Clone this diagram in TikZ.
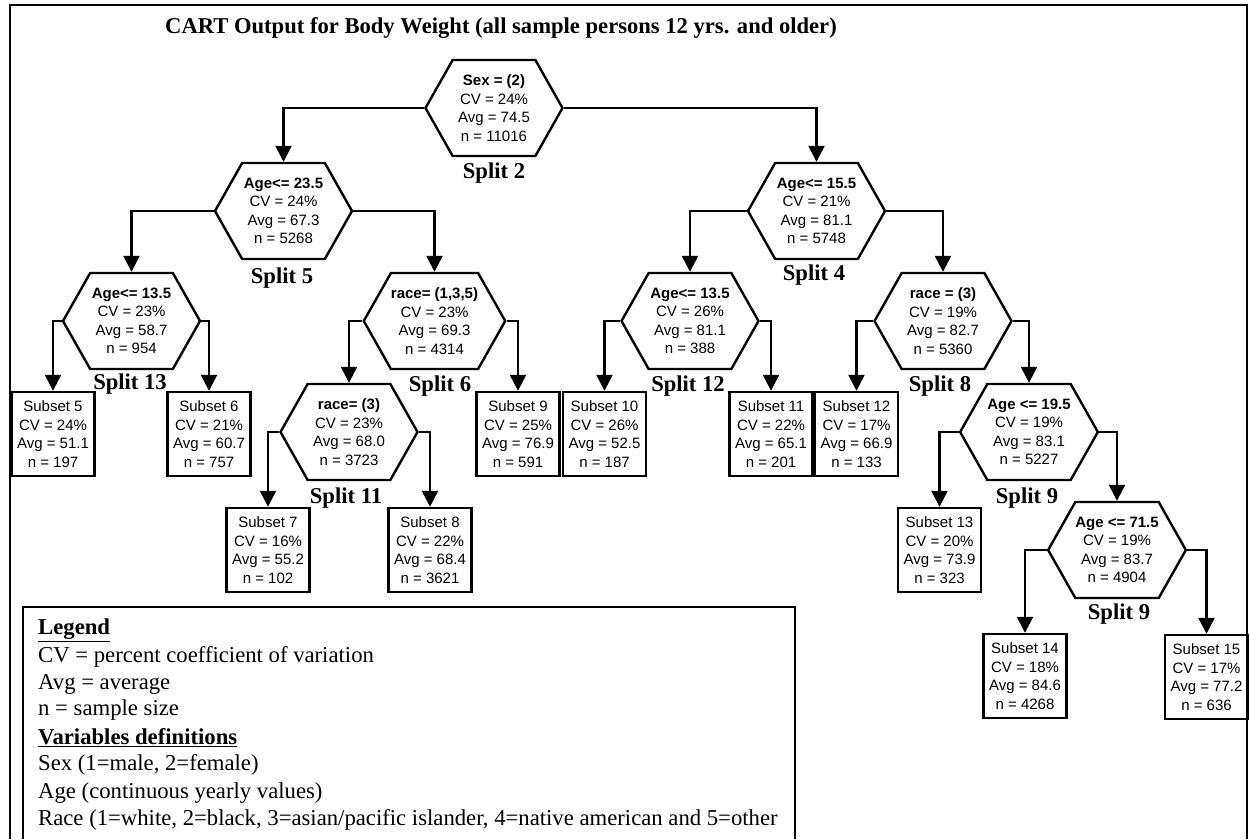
\documentclass[tikz,border=0pt]{standalone}
\usepackage{fontspec}
\setmainfont{Liberation Serif}
\setsansfont{Liberation Sans}
\usetikzlibrary{shapes.symbols,arrows.meta}

\tikzset{
  hexnode/.style={signal, signal to=west and east, signal from=nowhere,
    signal pointer angle=121, draw, line width=2.4pt, minimum width=137pt,
    minimum height=96pt, inner sep=0pt, align=center,
    font=\sffamily\fontsize{15}{18.5}\selectfont},
  subbox/.style={rectangle, draw, line width=2.4pt, minimum width=83pt,
    minimum height=84pt, inner sep=0pt, align=center,
    font=\sffamily\fontsize{15}{18.5}\selectfont},
  splitlbl/.style={inner sep=0pt, font=\bfseries\fontsize{22.6}{26}\selectfont},
  legtext/.style={anchor=west, inner sep=0pt, font=\fontsize{22.7}{26}\selectfont},
  arr/.style={line width=2.4pt, -{Triangle[length=16pt,width=16pt]}},
}

\begin{document}
\begin{tikzpicture}[x=1pt, y=-1pt]
    \useasboundingbox (0,0) rectangle (1250,839);

    % frame
    \draw[line width=1.6pt] (10,839) -- (10,5) -- (1247,5) -- (1247,839);
    \node[splitlbl] (title) at (501,28)
      {CART Output for Body Weight (all sample persons 12 yrs. and older)};

    % splits
    \node[hexnode] (root) at (494,108)
      {\textbf{Sex = (2)}\\CV = 24\%\\Avg = 74.5\\n = 11016};
    \node[splitlbl] (lbl2) at (494,173) {Split 2};
    \node[hexnode] (sp5) at (283.5,211)
      {\textbf{Age<= 23.5}\\CV = 24\%\\Avg = 67.3\\n = 5268};
    \node[splitlbl] (lbl5) at (282,278) {Split 5};
    \node[hexnode] (sp4) at (816.5,211)
      {\textbf{Age<= 15.5}\\CV = 21\%\\Avg = 81.1\\n = 5748};
    \node[splitlbl] (lbl4) at (814,275) {Split 4};
    \node[hexnode] (sp13) at (131.5,321)
      {\textbf{Age<= 13.5}\\CV = 23\%\\Avg = 58.7\\n = 954};
    \node[splitlbl] (lbl13) at (130,384) {Split 13};
    \node[hexnode] (sp6) at (434.5,321)
      {\textbf{race= (1,3,5)}\\CV = 23\%\\Avg = 69.3\\n = 4314};
    \node[splitlbl] (lbl6) at (440,386) {Split 6};
    \node[hexnode] (sp12) at (690,321)
      {\textbf{Age<= 13.5}\\CV = 26\%\\Avg = 81.1\\n = 388};
    \node[splitlbl] (lbl12) at (688,386) {Split 12};
    \node[hexnode] (sp8) at (943,321)
      {\textbf{race = (3)}\\CV = 19\%\\Avg = 82.7\\n = 5360};
    \node[splitlbl] (lbl8) at (940,386) {Split 8};
    \node[hexnode] (sp11) at (349,432)
      {\textbf{race= (3)}\\CV = 23\%\\Avg = 68.0\\n = 3723};
    \node[splitlbl] (lbl11) at (346,498) {Split 11};
    \node[hexnode] (sp9a) at (1029,432)
      {\textbf{Age <= 19.5}\\CV = 19\%\\Avg = 83.1\\n = 5227};
    \node[splitlbl] (lbl9a) at (1027,498) {Split 9};
    \node[hexnode] (sp9b) at (1117,550)
      {\textbf{Age <= 71.5}\\CV = 19\%\\Avg = 83.7\\n = 4904};
    \node[splitlbl] (lbl9b) at (1119,614) {Split 9};

    % subsets
    \node[subbox] (sub5) at (53,434) {Subset 5\\CV = 24\%\\Avg = 51.1\\n = 197};
    \node[subbox] (sub6) at (209,434) {Subset 6\\CV = 21\%\\Avg = 60.7\\n = 757};
    \node[subbox] (sub9) at (518,434) {Subset 9\\CV = 25\%\\Avg = 76.9\\n = 591};
    \node[subbox] (sub10) at (604.5,434) {Subset 10\\CV = 26\%\\Avg = 52.5\\n = 187};
    \node[subbox] (sub11) at (771,434) {Subset 11\\CV = 22\%\\Avg = 65.1\\n = 201};
    \node[subbox] (sub12) at (856.5,434) {Subset 12\\CV = 17\%\\Avg = 66.9\\n = 133};
    \node[subbox] (sub7) at (268,550) {Subset 7\\CV = 16\%\\Avg = 55.2\\n = 102};
    \node[subbox] (sub8) at (430,550) {Subset 8\\CV = 22\%\\Avg = 68.4\\n = 3621};
    \node[subbox] (sub13) at (939.5,550) {Subset 13\\CV = 20\%\\Avg = 73.9\\n = 323};
    \node[subbox] (sub14) at (1025,676) {Subset 14\\CV = 18\%\\Avg = 84.6\\n = 4268};
    \node[subbox] (sub15) at (1206.5,677) {Subset 15\\CV = 17\%\\Avg = 77.2\\n = 636};

    % arrows
    \draw[arr] (root.west) -| (sp5.north);
    \draw[arr] (root.east) -| (sp4.north);
    \draw[arr] (sp5.west) -| (sp13.north);
    \draw[arr] (sp5.east) -| (sp6.north);
    \draw[arr] (sp4.west) -| (sp12.north);
    \draw[arr] (sp4.east) -| (sp8.north);
    \draw[arr] (sp13.west) -| (sub5.north);
    \draw[arr] (sp13.east) -| (sub6.north);
    \draw[arr] (sp6.west) -| (sp11.north);
    \draw[arr] (sp6.east) -| (sub9.north);
    \draw[arr] (sp12.west) -| (sub10.north);
    \draw[arr] (sp12.east) -| (sub11.north);
    \draw[arr] (sp8.west) -| (sub12.north);
    \draw[arr] (sp8.east) -| (sp9a.north);
    \draw[arr] (sp11.west) -| (sub7.north);
    \draw[arr] (sp11.east) -| (sub8.north);
    \draw[arr] (sp9a.west) -| (sub13.north);
    \draw[arr] (sp9a.east) -| (sp9b.north);
    \draw[arr] (sp9b.west) -| (sub14.north);
    \draw[arr] (sp9b.east) -| (sub15.north);

    % legend
    \draw[line width=2.2pt] (23,839) -- (23,607) -- (795,607) -- (795,839);
    \node[legtext] (leg1) at (38,630) {\textbf{\underline{Legend}}};
    \node[legtext] (leg2) at (38,657) {CV = percent coefficient of variation};
    \node[legtext] (leg3) at (38,684) {Avg = average};
    \node[legtext] (leg4) at (38,710) {n = sample size};
    \node[legtext] (leg5) at (38,738) {\textbf{\underline{Variables definitions}}};
    \node[legtext] (leg6) at (38,765) {Sex (1=male, 2=female)};
    \node[legtext] (leg7) at (38,793) {Age (continuous yearly values)};
    \node[legtext] (leg8) at (38,820)
      {Race (1=white, 2=black, 3=asian/pacific islander, 4=native american and 5=other};
\end{tikzpicture}
\end{document}
